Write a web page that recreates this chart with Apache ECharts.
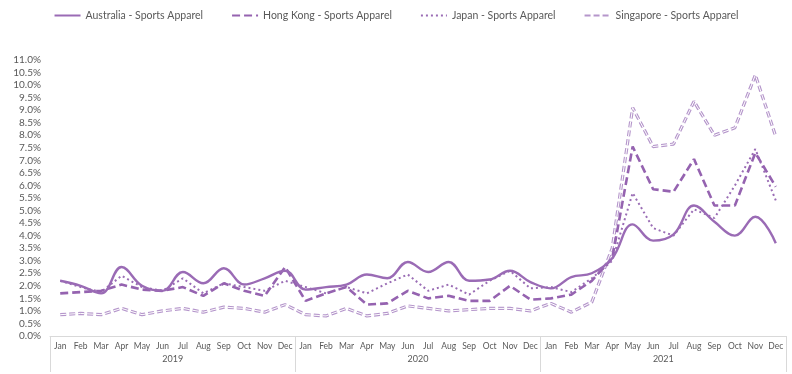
<!DOCTYPE html>
<html><head><meta charset="utf-8">
<script src="https://cdn.jsdelivr.net/npm/echarts@6/dist/echarts.min.js"></script>
<style>html,body{margin:0;padding:0;background:#fff}#c{width:792px;height:374px}</style>
</head><body><div id="c"></div>
<script>
var months = ['Jan','Feb','Mar','Apr','May','Jun','Jul','Aug','Sep','Oct','Nov','Dec'];
var years = ['2019','2020','2021'];
var australia = [2.2,2.0,1.7,2.75,2.0,1.8,2.55,2.1,2.7,2.05,2.3,2.6,
                 1.85,1.95,2.05,2.45,2.3,2.95,2.55,2.95,2.2,2.25,2.6,2.15,
                 1.9,2.35,2.5,3.1,4.45,3.8,4.05,5.2,4.55,4.0,4.75,3.7];
var hongKong = [1.7,1.75,1.8,2.05,1.85,1.8,1.95,1.6,2.1,1.8,1.6,2.75,
                1.4,1.7,1.95,1.25,1.3,1.8,1.5,1.6,1.4,1.4,2.0,1.45,
                1.5,1.65,2.2,3.1,7.55,5.85,5.75,7.05,5.2,5.2,7.3,5.95];
var japan = [2.2,1.95,1.75,2.4,1.95,1.8,2.3,1.7,2.1,1.95,1.8,2.2,
             1.95,1.7,1.95,1.7,2.1,2.45,1.8,2.05,1.65,2.2,2.6,1.9,
             1.95,1.75,2.3,3.0,5.7,4.3,4.0,5.05,4.7,6.0,7.45,5.4];
var singapore = [0.85,0.9,0.85,1.1,0.85,1.0,1.1,0.95,1.15,1.1,0.95,1.25,
                 0.85,0.8,1.1,0.8,0.9,1.2,1.1,1.0,1.05,1.1,1.1,1.0,
                 1.3,0.95,1.35,3.5,9.1,7.55,7.65,9.35,8.0,8.3,10.4,7.95];
var seriesNames = ['Australia - Sports Apparel','Hong Kong - Sports Apparel','Japan - Sports Apparel','Singapore - Sports Apparel'];

var cats = [];
years.forEach(function(y){ months.forEach(function(m){ cats.push(m + '\n' + y); }); });
var font = 'Lato, "Open Sans", sans-serif';
var textCol = '#595959';
var chart = echarts.init(document.getElementById('c'));
chart.setOption({
  animation: false,
  textStyle: {fontFamily: font},
  legend: {
    top: 5, left: 'center', itemGap: 28, itemWidth: 26, itemHeight: 10,
    data: seriesNames,
    itemStyle: {opacity: 0},
    textStyle: {color: textCol, fontSize: 10.5, fontFamily: font}
  },
  grid: {left: 50, right: 6, top: 60, bottom: 38, containLabel: false},
  xAxis: [{
    type: 'category', data: cats, boundaryGap: true,
    axisLine: {show: true, lineStyle: {color: '#d9d9d9'}},
    axisTick: {show: false},
    axisLabel: {interval: 0, margin: 6, color: textCol, fontSize: 8.5, fontFamily: font,
      formatter: function(v){ return v.split('\n')[0]; }},
    splitLine: {show: false}
  }, {
    type: 'category', data: years, position: 'bottom', boundaryGap: true,
    axisLine: {show: false},
    axisTick: {show: true, length: 36, interval: 0, lineStyle: {color: '#d9d9d9'}},
    axisLabel: {interval: 0, margin: 19, color: textCol, fontSize: 9, fontFamily: font},
    splitLine: {show: false}
  }],
  yAxis: {
    type: 'value', min: 0, max: 11, interval: 0.5,
    axisLine: {show: false}, axisTick: {show: false}, splitLine: {show: false},
    axisLabel: {margin: 9, color: textCol, fontSize: 10, fontFamily: font,
      formatter: function(v){ return v.toFixed(1) + '%'; }}
  },
  series: [{
    name: seriesNames[3], type: 'line', data: singapore, symbol: 'none',
    itemStyle: {color: '#b596cb'},
    lineStyle: {width: 3.2, type: [6, 3], color: '#b596cb'}
  }, {
    name: 'sg-inner', type: 'line', data: singapore, symbol: 'none', silent: true,
    itemStyle: {color: '#ffffff'},
    lineStyle: {width: 1, type: [6, 3], color: '#ffffff'}
  }, {
    name: seriesNames[2], type: 'line', data: japan, symbol: 'none',
    itemStyle: {color: '#9a6db5'},
    lineStyle: {width: 2, type: [2, 3], color: '#9a6db5'}
  }, {
    name: seriesNames[1], type: 'line', data: hongKong, symbol: 'none',
    itemStyle: {color: '#9563b0'},
    lineStyle: {width: 2.6, type: [8, 4], color: '#9563b0'}
  }, {
    name: seriesNames[0], type: 'line', data: australia, symbol: 'none', smooth: 0.4,
    itemStyle: {color: '#9a6bb5'},
    lineStyle: {width: 2.4, color: '#9a6bb5'}
  }]
});
</script></body></html>
